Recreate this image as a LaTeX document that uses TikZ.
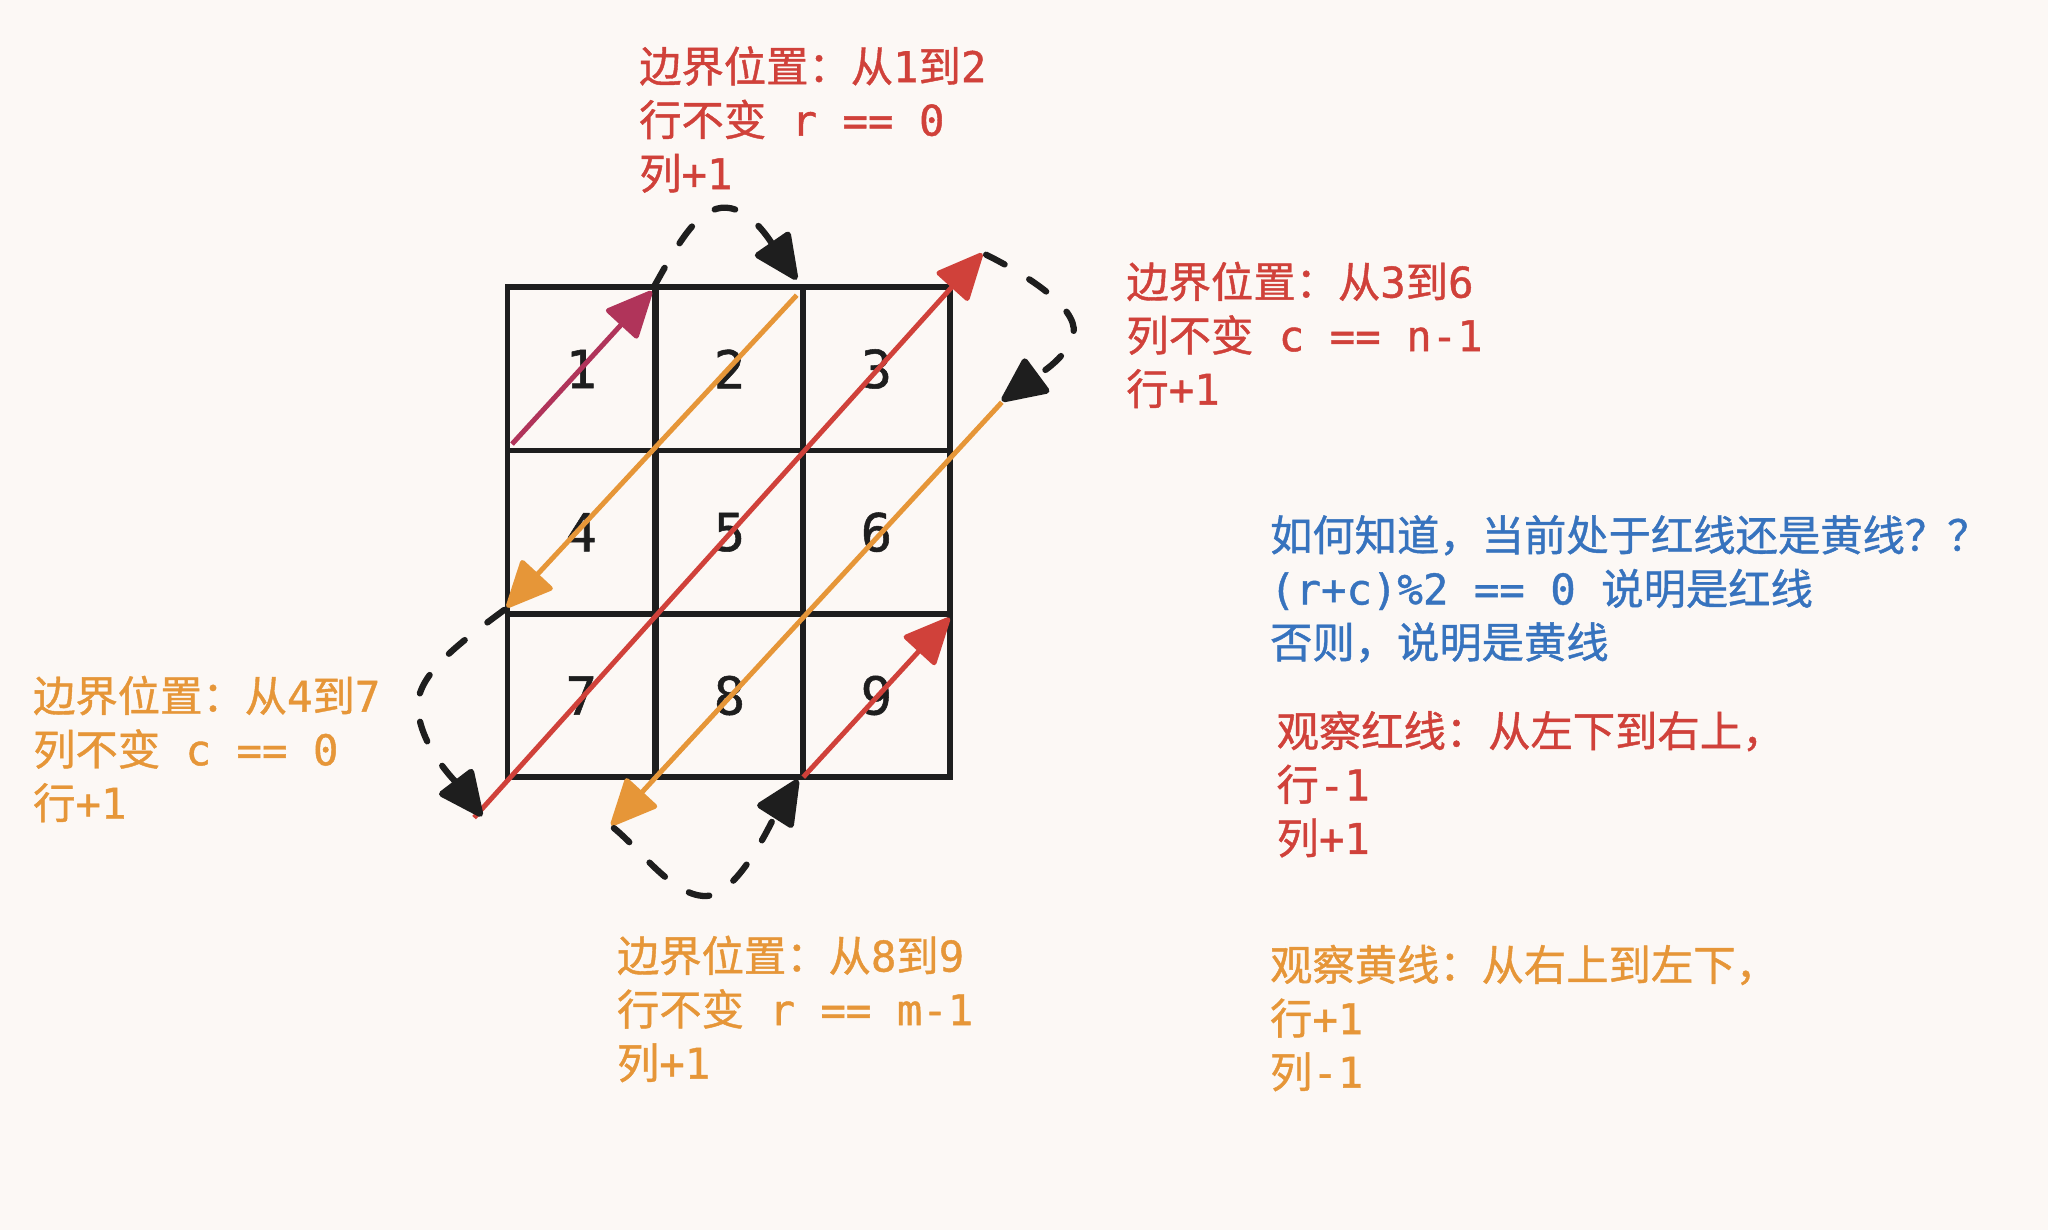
\documentclass[tikz,border=0pt]{standalone}
\usepackage{fontspec}
\setmainfont{DejaVu Sans Mono}
\newfontfamily\cjk[FakeBold=1]{Noto Sans CJK SC}
\newfontfamily\mono[FakeBold=1]{DejaVu Sans Mono}
\usetikzlibrary{arrows.meta}
\definecolor{bg}{HTML}{FCF8F5}
\definecolor{ink}{HTML}{1E1E1E}
\definecolor{xred}{HTML}{D0413A}
\definecolor{xorange}{HTML}{E69638}
\definecolor{xblue}{HTML}{3773BE}
\definecolor{xmagenta}{HTML}{B0345A}
\newcommand\lat[1]{{\mono #1}}
\begin{document}
\begin{tikzpicture}[x=0.5pt,y=-0.5pt,
  cell/.style={draw=ink,line width=2.2pt,minimum width=56.5pt,minimum height=62.5pt,inner sep=0pt,font=\mono\fontsize{20}{20}\selectfont,text=ink},
  note/.style={anchor=north west,inner sep=0pt,align=left,font=\cjk\fontsize{16.2}{20.5}\selectfont},
  diag/.style={line width=1.9pt,-{Triangle[length=19pt,width=17pt,round]}},
  hop/.style={draw=ink,line width=2.4pt,dash pattern=on 8pt off 11pt,line cap=round,-{Triangle[length=19pt,width=17pt,round,fill=ink]}}
]
\fill[bg] (0,0) rectangle (1568,941.7);
\useasboundingbox (0,0) rectangle (1568,941.7);

% grid cells
\node[cell] (c1) at (445,282.5) {1};
\node[cell] (c2) at (558.5,282.5) {2};
\node[cell] (c3) at (671,282.5) {3};
\node[cell] (c4) at (445,407.5) {4};
\node[cell] (c5) at (558.5,407.5) {5};
\node[cell] (c6) at (671,407.5) {6};
\node[cell] (c7) at (445,532.5) {7};
\node[cell] (c8) at (558.5,532.5) {8};
\node[cell] (c9) at (671,532.5) {9};

% endpoints
\coordinate (m0) at (392,340);
\coordinate (m1) at (499,223);
\coordinate (oa0) at (610,226);
\coordinate (oa1) at (388,465);
\coordinate (rl0) at (363,626);
\coordinate (rl1) at (752,194);
\coordinate (ob0) at (767,308);
\coordinate (ob1) at (468,632);
\coordinate (rs0) at (615,595);
\coordinate (rs1) at (727,473);
\coordinate (h1s) at (501,219);
\coordinate (h1e) at (610,214);
\coordinate (h2s) at (755,195);
\coordinate (h2e) at (767,307);
\coordinate (h3s) at (386,467);
\coordinate (h3e) at (369,625);
\coordinate (h4s) at (470,634);
\coordinate (h4e) at (611,597);

% diagonal arrows
\draw[diag,xmagenta] (m0) -- (m1);
\draw[diag,xorange] (oa0) -- (oa1);
\draw[diag,xred] (rl0) -- (rl1);
\draw[diag,xorange] (ob0) -- (ob1);
\draw[diag,xred] (rs0) -- (rs1);

% dashed hops
\draw[hop] (h1s) .. controls (520,185) and (535,158) .. (556,159) .. controls (575,160) and (590,185) .. (h1e);
\draw[hop] (h2s) .. controls (785,210) and (825,235) .. (822,255) .. controls (818,275) and (790,290) .. (h2e);
\draw[hop] (h3s) .. controls (355,490) and (320,515) .. (320,540) .. controls (320,570) and (350,600) .. (h3e);
\draw[hop] (h4s) .. controls (490,650) and (515,686) .. (540,686) .. controls (565,686) and (590,630) .. (h4e);

% notes
\node[note,text=xred] (t1) at (489,35) {边界位置：从\lat{1}到\lat{2}\\行不变\lat{\ r == 0}\\列\lat{+1}};
\node[note,text=xred] (t2) at (862,200) {边界位置：从\lat{3}到\lat{6}\\列不变\lat{\ c == n-1}\\行\lat{+1}};
\node[note,text=xorange] (t3) at (25,517) {边界位置：从\lat{4}到\lat{7}\\列不变\lat{\ c == 0}\\行\lat{+1}};
\node[note,text=xorange] (t4) at (472,716) {边界位置：从\lat{8}到\lat{9}\\行不变\lat{\ r == m-1}\\列\lat{+1}};
\node[note,text=xblue] (t5) at (972,394) {如何知道，当前处于红线还是黄线？？\\\lat{(r+c)\%2 == 0 }说明是红线\\否则，说明是黄线};
\node[note,text=xred] (t6) at (977,544) {观察红线：从左下到右上，\\行\lat{-1}\\列\lat{+1}};
\node[note,text=xorange] (t7) at (972,723) {观察黄线：从右上到左下，\\行\lat{+1}\\列\lat{-1}};
\end{tikzpicture}
\end{document}
